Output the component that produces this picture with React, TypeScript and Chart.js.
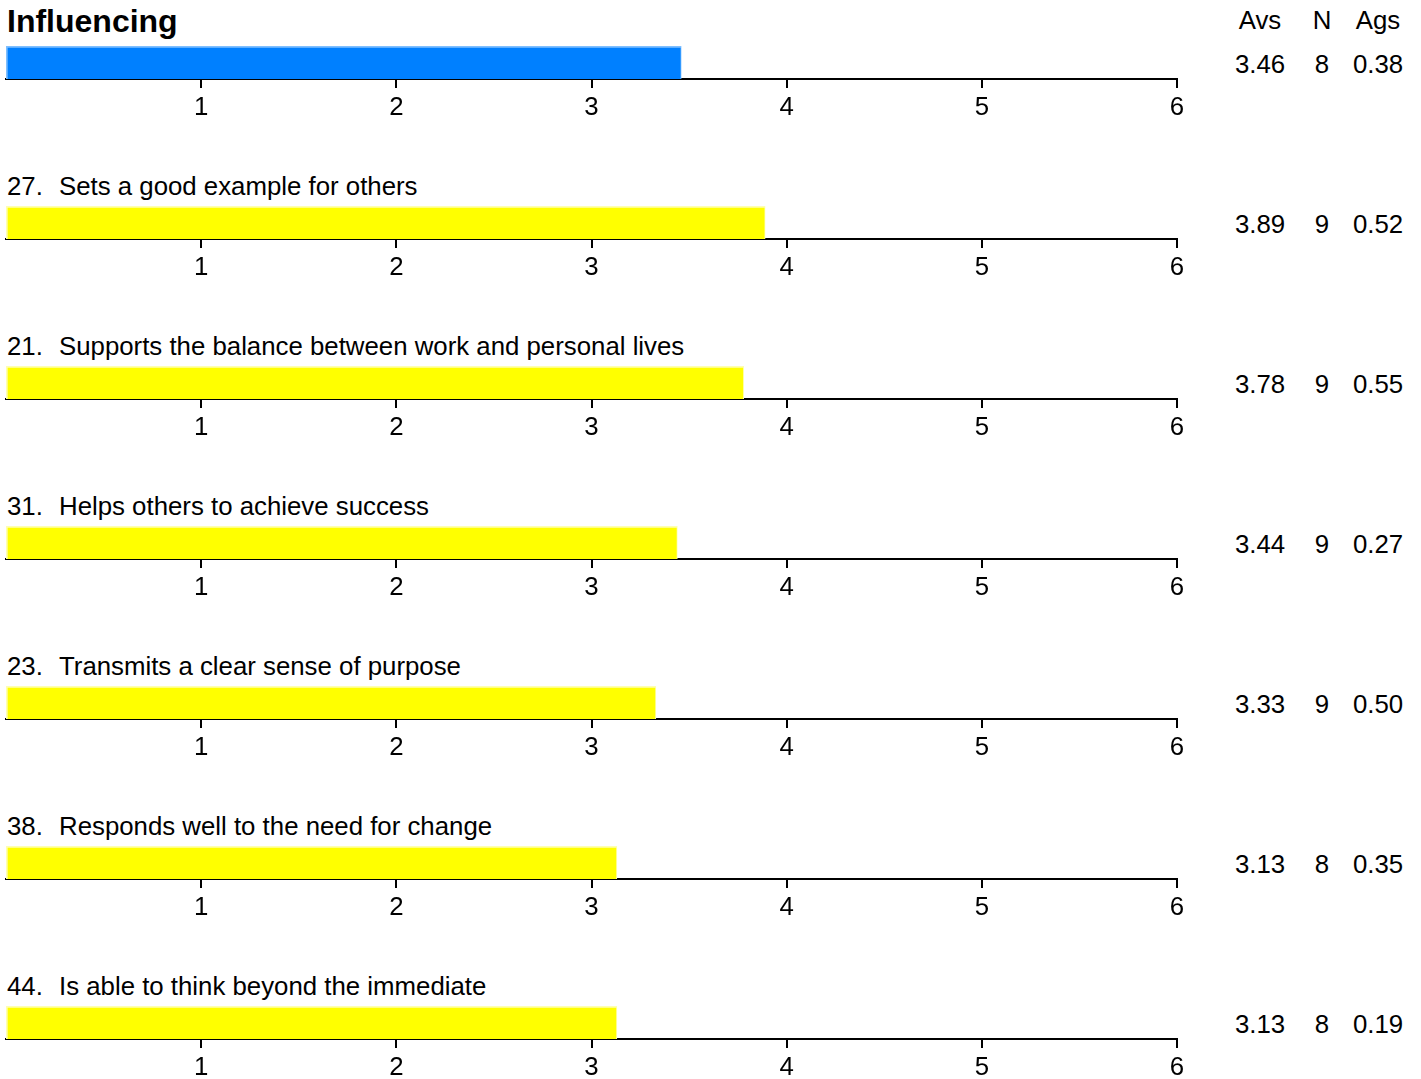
import React, { useEffect, useRef } from "react";
import { Chart, registerables } from "chart.js";

Chart.register(...registerables);

const chartTitle = "Influencing";
const columnHeaders = ["Avs", "N", "Ags"];
const itemNumbers = ["", "27.", "21.", "31.", "23.", "38.", "44."];
const itemTexts = [
  "",
  "Sets a good example for others",
  "Supports the balance between work and personal lives",
  "Helps others to achieve success",
  "Transmits a clear sense of purpose",
  "Responds well to the need for change",
  "Is able to think beyond the immediate",
];
const averages = [3.46, 3.89, 3.78, 3.44, 3.33, 3.13, 3.13];
const counts = [8, 9, 9, 9, 9, 8, 8];
const agreements = [0.38, 0.52, 0.55, 0.27, 0.5, 0.35, 0.19];
const barColors = ["#0080FF", "#FFFF00", "#FFFF00", "#FFFF00", "#FFFF00", "#FFFF00", "#FFFF00"];
const barEdgeColors = ["#7fbfff", "#ffffb0", "#ffffb0", "#ffffb0", "#ffffb0", "#ffffb0", "#ffffb0"];
const tickValues = [1, 2, 3, 4, 5, 6];
const axisMin = 0;
const axisMax = 6;

const FONT = "'Liberation Sans', Arial, Helvetica, sans-serif";
const ROW_STEP = 160;
const BAR_TOP = 46;
const CANVAS_W = 1200;
const CANVAS_H = 78;
const AXIS_H = 45;
const TEXT_SIZE = 25.8;

function RowChart({ index }: { index: number }) {
  const ref = useRef<HTMLCanvasElement | null>(null);
  useEffect(() => {
    if (!ref.current) return;
    const chart = new Chart(ref.current, {
      type: "bar",
      data: {
        labels: [itemTexts[index] || chartTitle],
        datasets: [
          {
            data: [averages[index]],
            backgroundColor: barColors[index],
            borderColor: barEdgeColors[index],
            borderWidth: { top: 2, left: 2, right: 1, bottom: 0 },
            borderSkipped: false,
            categoryPercentage: 1,
            barPercentage: 1,
          },
        ],
      },
      options: {
        indexAxis: "y",
        responsive: false,
        animation: false,
        devicePixelRatio: 1,
        layout: { padding: { left: 6, right: 23, top: 0, bottom: 0 } },
        plugins: { legend: { display: false }, tooltip: { enabled: false } },
        scales: {
          y: { display: false },
          x: {
            type: "linear",
            position: "bottom",
            min: axisMin,
            max: axisMax,
            afterBuildTicks: (s: any) => {
              s.ticks = tickValues.map((v) => ({ value: v }));
            },
            afterFit: (s: any) => {
              s.height = AXIS_H;
            },
            grid: {
              drawOnChartArea: false,
              drawTicks: true,
              tickLength: 9,
              color: "#000",
              lineWidth: 2,
            },
            border: { display: true, color: "#000", width: 2 },
            ticks: {
              color: "#000",
              font: { family: FONT, size: TEXT_SIZE },
              padding: 4,
              maxRotation: 0,
              autoSkip: false,
            },
          },
        },
      } as any,
    });
    return () => chart.destroy();
  }, [index]);
  return (
    <canvas
      ref={ref}
      width={CANVAS_W}
      height={CANVAS_H}
      style={{ position: "absolute", left: 0, top: BAR_TOP + ROW_STEP * index, width: CANVAS_W, height: CANVAS_H }}
    />
  );
}

const textBase: React.CSSProperties = {
  position: "absolute",
  fontFamily: FONT,
  fontSize: TEXT_SIZE,
  lineHeight: TEXT_SIZE + "px",
  color: "#000",
  whiteSpace: "pre",
};

const colCenters = [1260, 1322, 1378];

export default function App() {
  return (
    <div style={{ position: "absolute", left: 0, top: 0, width: 1421, height: 1079, background: "#fff", overflow: "hidden" }}>
      <div style={{ ...textBase, left: 7, top: 5, fontSize: 32, lineHeight: "32px", fontWeight: "bold" }}>{chartTitle}</div>
      {columnHeaders.map((h, k) => (
        <div key={h} style={{ ...textBase, left: colCenters[k] - 50, width: 100, textAlign: "center", top: 21 - 12.6 }}>
          {h}
        </div>
      ))}
      {averages.map((_, i) => (
        <React.Fragment key={i}>
          {i > 0 && (
            <>
              <div style={{ ...textBase, left: 7, top: 187 + ROW_STEP * (i - 1) - 12.6 }}>{itemNumbers[i]}</div>
              <div style={{ ...textBase, left: 59, top: 187 + ROW_STEP * (i - 1) - 12.6 }}>{itemTexts[i]}</div>
            </>
          )}
          <RowChart index={i} />
          {[averages[i].toFixed(2), String(counts[i]), agreements[i].toFixed(2)].map((v, k) => (
            <div key={k} style={{ ...textBase, left: colCenters[k] - 50, width: 100, textAlign: "center", top: 65 + ROW_STEP * i - 12.6 }}>
              {v}
            </div>
          ))}
        </React.Fragment>
      ))}
    </div>
  );
}
